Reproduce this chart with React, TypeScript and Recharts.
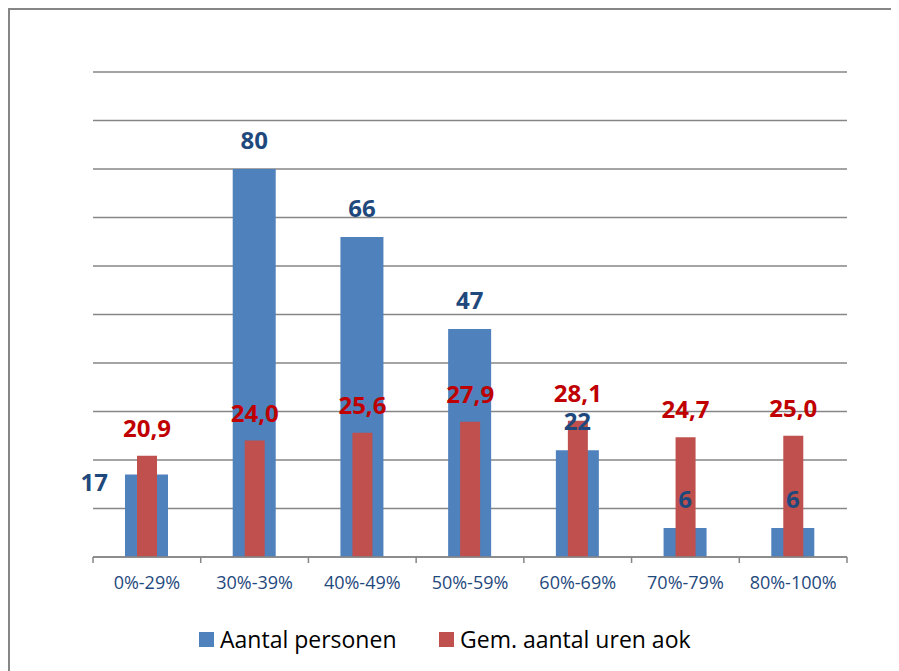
import React, { useEffect } from 'react';
import {
  Bar,
  BarChart,
  XAxis,
  YAxis,
  CartesianGrid,
  LabelList,
} from 'recharts';

const categories = ['0%-29%', '30%-39%', '40%-49%', '50%-59%', '60%-69%', '70%-79%', '80%-100%'];
const aantalPersonen = [17, 80, 66, 47, 22, 6, 6];
const gemUrenAok = [20.9, 24.0, 25.6, 27.9, 28.1, 24.7, 25.0];
const yTicks = [0, 10, 20, 30, 40, 50, 60, 70, 80, 90, 100];
const legendLabels = ['Aantal personen', 'Gem. aantal uren aok'];

const BLUE = '#4F81BD';
const RED = '#C0504D';
const BLUE_TEXT = '#1F497D';
const RED_TEXT = '#C00000';
const GRID = '#868686';
const FONT = '"Open Sans", sans-serif';

const CHART_W = 889;
const CHART_H = 661;
const X_AXIS_H = 40;
const margin = { top: 62, right: 52, bottom: CHART_H - 547 - X_AXIS_H, left: 83 };
const bandWidth = (CHART_W - margin.left - margin.right) / categories.length;

const data = categories.map((name, i) => ({
  name,
  personen: aantalPersonen[i],
  uren: gemUrenAok[i],
}));

const EmptyTick = () => null;

const CategoryTick = (props: any) => {
  const { x, y, payload, index } = props;
  const left = x - bandWidth / 2;
  const right = x + bandWidth / 2;
  return (
    <g>
      <line x1={left} y1={y} x2={left} y2={y + 6} stroke={GRID} strokeWidth={1.5} />
      {index === categories.length - 1 && (
        <line x1={right} y1={y} x2={right} y2={y + 6} stroke={GRID} strokeWidth={1.5} />
      )}
      <text x={x} y={y + 32} textAnchor="middle" fill={BLUE_TEXT} fontSize={18} fontFamily={FONT}>
        {payload.value}
      </text>
    </g>
  );
};

const PersonenLabel = (props: any) => {
  const { x, y, width, value, index } = props;
  // first one sits left of the bar, like in the original
  if (index === 0) {
    return (
      <text x={x - 17} y={y + 16} textAnchor="end" fill={BLUE_TEXT} fontSize={24} fontWeight="bold" fontFamily={FONT}>
        {value}
      </text>
    );
  }
  return (
    <text x={x + width / 2} y={y - 20} textAnchor="middle" fill={BLUE_TEXT} fontSize={24} fontWeight="bold" fontFamily={FONT}>
      {value}
    </text>
  );
};

const UrenLabel = (props: any) => {
  const { x, y, width, value } = props;
  return (
    <text x={x + width / 2} y={y - 19} textAnchor="middle" fill={RED_TEXT} fontSize={24} fontWeight="bold" fontFamily={FONT}>
      {Number(value).toFixed(1).replace('.', ',')}
    </text>
  );
};

const ChartLegend = () => {
  const colors = [BLUE, RED];
  const lefts = [189, 429];
  return (
    <div style={{ position: 'absolute', left: 0, top: 614, width: CHART_W, height: 30, fontFamily: FONT, fontSize: 23, color: '#000' }}>
      {legendLabels.map((label, i) => (
        <div key={label} style={{ position: 'absolute', left: lefts[i], top: 0, display: 'flex', alignItems: 'center', whiteSpace: 'nowrap', lineHeight: '30px' }}>
          <span style={{ display: 'inline-block', width: 15, height: 15, background: colors[i], marginRight: 6 }} />
          <span>{label}</span>
        </div>
      ))}
    </div>
  );
};

const App = () => {
  // no scrollbars, the frame runs off the page edges like in the original
  useEffect(() => {
    document.documentElement.style.overflow = 'hidden';
    document.body.style.overflow = 'hidden';
  }, []);

  return (
    <div
      style={{
        position: 'relative',
        width: CHART_W,
        height: CHART_H,
        borderLeft: `2px solid ${GRID}`,
        borderTop: `2px solid ${GRID}`,
        background: '#fff',
        overflow: 'hidden',
      }}
    >
      <BarChart width={CHART_W} height={CHART_H} data={data} margin={margin}>
        <CartesianGrid xAxisId="a" vertical={false} stroke={GRID} strokeWidth={1.5} />
        <YAxis
          domain={[0, 100]}
          ticks={yTicks}
          width={0}
          tick={<EmptyTick />}
          axisLine={false}
          tickLine={false}
        />
        <XAxis
          xAxisId="a"
          dataKey="name"
          stroke={GRID}
          strokeWidth={1.5}
          tickLine={false}
          tickSize={0}
          tickMargin={0}
          tick={<CategoryTick />}
          interval={0}
          height={X_AXIS_H}
        />
        <XAxis xAxisId="b" dataKey="name" hide />
        <XAxis xAxisId="c" dataKey="name" hide />
        <Bar xAxisId="a" dataKey="personen" name={legendLabels[0]} fill={BLUE} barSize={43} isAnimationActive={false} />
        <Bar xAxisId="b" dataKey="uren" name={legendLabels[1]} fill={RED} barSize={20} isAnimationActive={false}>
          <LabelList dataKey="uren" content={<UrenLabel />} />
        </Bar>
        <Bar xAxisId="c" dataKey="personen" fill="transparent" barSize={43} isAnimationActive={false}>
          <LabelList dataKey="personen" content={<PersonenLabel />} />
        </Bar>
      </BarChart>
      <ChartLegend />
    </div>
  );
};

export default App;
